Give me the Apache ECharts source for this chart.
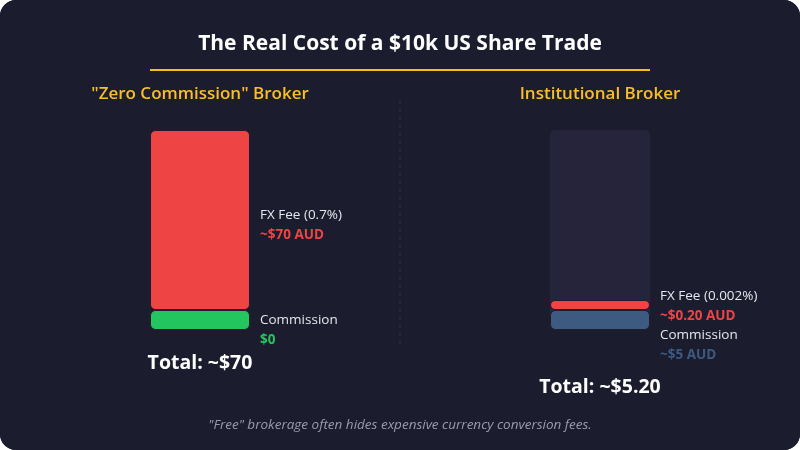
<!DOCTYPE html>
<html>
<head>
<meta charset="utf-8">
<script src="https://cdn.jsdelivr.net/npm/echarts@6/dist/echarts.min.js"></script>
<style>
  html, body { margin: 0; padding: 0; background: #ffffff; }
  #chart { width: 800px; height: 450px; border-radius: 16px; overflow: hidden; background: #1b1c2e; }
</style>
</head>
<body>
<div id="chart"></div>
<script>
(function () {

	// share of the bar height each part takes (%)
	var brokers = ['"Zero Commission" Broker', 'Institutional Broker'];
	var fxShare = [90, 5];
	var commissionShare = [10, 10];
	var trackShare = [0, 100];

	// text shown beside the bars
	var fxNames = ['FX Fee (0.7%)', 'FX Fee (0.002%)'];
	var fxValues = ['~$70 AUD', '~$0.20 AUD'];
	var commissionNames = ['Commission', 'Commission'];
	var commissionValues = ['$0', '~$5 AUD'];
	var commissionColors = ['#22c55e', '#3d5a80'];
	var totals = ['Total: ~$70', 'Total: ~$5.20'];

	var BG = '#1b1c2e';
	var FONT = '"Open Sans", "Noto Sans", sans-serif';

	function richLabel(valColor, offsetY) {
		return {
			show: true,
			position: 'right',
			distance: 10,
			offset: [0, offsetY],
			align: 'left',
			formatter: function (p) { return p.data.txt; },
			rich: {
				n: { color: '#e5e7eb', fontSize: 13.5, lineHeight: 20, fontFamily: FONT },
				v: { color: valColor, fontSize: 13.5, lineHeight: 20, fontWeight: 'bold', fontFamily: FONT }
			}
		};
	}

	var grids = [], xAxes = [], yAxes = [], series = [], graphics = [];
	var fxOffsets = [5, 1], comOffsets = [10, 25];

	for (var i = 0; i < brokers.length; i++) {
		var cx = i === 0 ? 200 : 600;
		grids.push({ left: cx - 50, width: 100, top: 130, height: 200 });
		xAxes.push({ type: 'category', gridIndex: i, data: [brokers[i]], show: false });
		yAxes.push({ type: 'value', gridIndex: i, min: 0, max: 100, show: false });

		if (trackShare[i] > 0) {
			series.push({
				type: 'bar', xAxisIndex: i, yAxisIndex: i,
				data: [trackShare[i]], barWidth: '100%', barGap: '-100%',
				silent: true, z: 1,
				itemStyle: { color: '#25243a', borderRadius: 5 }
			});
		}
		series.push({
			type: 'bar', xAxisIndex: i, yAxisIndex: i, stack: 's' + i,
			barWidth: '100%', z: 2,
			data: [{ value: commissionShare[i], txt: '{n|' + commissionNames[i] + '}\n{v|' + commissionValues[i] + '}' }],
			itemStyle: { color: commissionColors[i], borderRadius: 5, borderColor: BG, borderWidth: 1 },
			label: richLabel(commissionColors[i], comOffsets[i])
		});
		series.push({
			type: 'bar', xAxisIndex: i, yAxisIndex: i, stack: 's' + i,
			barWidth: '100%', z: 2,
			data: [{ value: fxShare[i], txt: '{n|' + fxNames[i] + '}\n{v|' + fxValues[i] + '}' }],
			itemStyle: { color: '#ef4444', borderRadius: 5, borderColor: BG, borderWidth: 1 },
			label: richLabel('#ef4444', fxOffsets[i])
		});

		graphics.push({
			type: 'text', style: {
				x: cx, y: 94, text: brokers[i], textAlign: 'center', textVerticalAlign: 'middle',
				fill: '#fbbf24', font: '600 17px ' + FONT
			}
		});
		graphics.push({
			type: 'text', style: {
				x: cx, y: i === 0 ? 363 : 387, text: totals[i], textAlign: 'center', textVerticalAlign: 'middle',
				fill: '#ffffff', font: 'bold 19.5px ' + FONT
			}
		});
	}

	graphics.push({
		type: 'text', style: {
			x: 400, y: 44, text: 'The Real Cost of a $10k US Share Trade', textAlign: 'center',
			textVerticalAlign: 'middle', fill: '#ffffff', font: 'bold 21px ' + FONT
		}
	});
	graphics.push({
		type: 'line', shape: { x1: 150, y1: 70, x2: 650, y2: 70 },
		style: { stroke: '#f5c211', lineWidth: 2 }
	});
	graphics.push({
		type: 'line', shape: { x1: 400, y1: 100, x2: 400, y2: 345 },
		style: { stroke: '#2e3044', lineWidth: 1, lineDash: [4, 4] }
	});
	graphics.push({
		type: 'text', style: {
			x: 400, y: 425, text: '"Free" brokerage often hides expensive currency conversion fees.',
			textAlign: 'center', textVerticalAlign: 'middle', fill: '#9a9cab', font: 'italic 13.5px ' + FONT
		}
	});

	var option = {
		backgroundColor: BG,
		animation: false,
		grid: grids,
		xAxis: xAxes,
		yAxis: yAxes,
		series: series,
		graphic: graphics
	};

	var chart = echarts.init(document.getElementById('chart'));
	chart.setOption(option);

})();
</script>
</body>
</html>
